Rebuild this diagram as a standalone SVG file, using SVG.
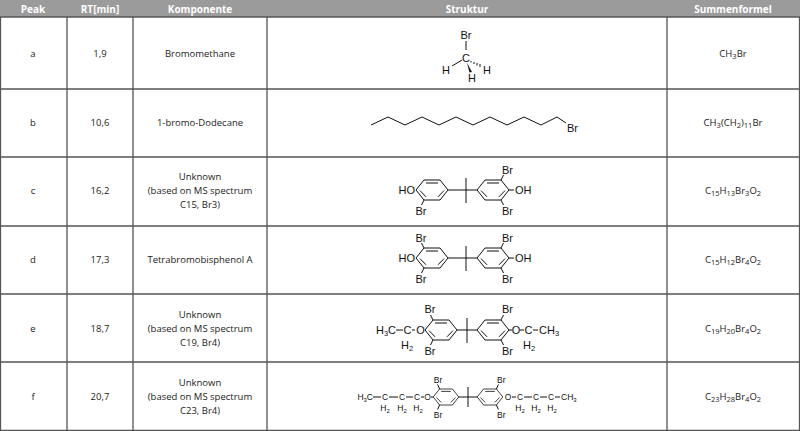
<svg xmlns="http://www.w3.org/2000/svg" width="800" height="431" viewBox="0 0 800 431">
<style>
.t{font-family:"Open Sans","Liberation Sans",sans-serif;font-size:9.5px;fill:#222;text-anchor:middle}
.h{font-family:"Open Sans","Liberation Sans",sans-serif;font-size:10px;font-weight:bold;fill:#fff;text-anchor:middle}
.c{font-family:"Liberation Sans",Arial,sans-serif;font-size:11px;fill:#111}
.s{font-family:"Liberation Sans",Arial,sans-serif;font-size:8.5px;fill:#111}
.grid{stroke:#555;stroke-width:1.3;fill:none}
.b{stroke:#111;stroke-width:1;fill:none}
</style>
<defs>
<g id="ring" class="b">
<path d="M-16,0 L-8,-10 L8,-10 L16,0 L8,10 L-8,10Z"/>
<path d="M-6,-7 L6,-7 M6,6.8 L12,0.6 M-12,0.6 L-6,6.8"/>
</g>
</defs>
<rect x="0" y="0" width="800" height="17" fill="#9b9b9b"/>
<g class="grid">
<path d="M0,17 H800 M0,89 H800 M0,157 H800 M0,226 H800 M0,294 H800 M0,362 H800 M0,430.5 H800"/>
<path d="M67,17 V431 M133,17 V431 M267,17 V431 M667,17 V431 M0.5,17 V431 M799.5,17 V431"/>
</g>
<g id="header">
<text class="h" x="33" y="12.5">Peak</text>
<text class="h" x="100" y="12.5">RT[min]</text>
<text class="h" x="200" y="12.5">Komponente</text>
<text class="h" x="467" y="12.5">Struktur</text>
<text class="h" x="733" y="12.5">Summenformel</text>
</g>
<g id="row-a">
<text class="t" x="33" y="57">a</text><text class="t" x="100" y="57">1,9</text><text class="t" x="200" y="57">Bromomethane</text>
<text class="c" x="466" y="39" text-anchor="middle">Br</text>
<path class="b" d="M466,41 V50 M462,60 L452,66"/>
<text class="c" x="466" y="62" text-anchor="middle">C</text>
<text class="c" x="446" y="74" text-anchor="middle">H</text>
<text class="c" x="487" y="74" text-anchor="middle">H</text>
<text class="c" x="472" y="82" text-anchor="middle">H</text>
<path d="M467,63 L472,72 L469.5,72.5Z" fill="#111"/>
<path class="b" d="M471,61 l0,1.5 M474,62 l0,2 M477,63 l0,2.5 M480,64 l0,3"/>
<text class="t" x="733" y="57">CH<tspan font-size="7.5" dy="1.5">3</tspan><tspan dy="-1.5">Br</tspan></text>
</g>
<g id="row-b">
<text class="t" x="33" y="126">b</text><text class="t" x="100" y="126">10,6</text><text class="t" x="200" y="126">1-bromo-Dodecane</text>
<polyline class="b" points="371,125 388,117 405,125 422,117 439,125 456,117 473,125 490,117 507,125 524,117 541,125 557,117 566,123"/>
<text class="c" x="567" y="132" font-size="10">Br</text>
<text class="t" x="733" y="126">CH<tspan font-size="7.5" dy="1.5">3</tspan><tspan dy="-1.5">(CH</tspan><tspan font-size="7.5" dy="1.5">2</tspan><tspan dy="-1.5">)</tspan><tspan font-size="7.5" dy="1.5">11</tspan><tspan dy="-1.5">Br</tspan></text>
</g>
<g id="row-c">
<text class="t" x="33" y="194">c</text><text class="t" x="100" y="194">16,2</text>
<text class="t" x="200" y="180">Unknown</text><text class="t" x="200" y="194">(based on MS spectrum</text><text class="t" x="200" y="208">C15, Br3)</text>
<use href="#ring" x="432" y="190"/><use href="#ring" x="493" y="190"/>
<path class="b" d="M448,190 H477 M466,178 V203 M424,200 L421.5,205 M501,180 L503.5,175 M509,190 H514 M501,200 L503.5,205"/>
<text class="c" x="415" y="194" text-anchor="end">HO</text>
<text class="c" x="421" y="215" text-anchor="middle">Br</text>
<text class="c" x="502" y="174">Br</text>
<text class="c" x="515" y="194">OH</text>
<text class="c" x="502" y="215">Br</text>
<text class="t" x="733" y="194">C<tspan font-size="7.5" dy="1.5">15</tspan><tspan dy="-1.5">H</tspan><tspan font-size="7.5" dy="1.5">13</tspan><tspan dy="-1.5">Br</tspan><tspan font-size="7.5" dy="1.5">3</tspan><tspan dy="-1.5">O</tspan><tspan font-size="7.5" dy="1.5">2</tspan></text>
</g>
<g id="row-d">
<text class="t" x="33" y="263">d</text><text class="t" x="100" y="263">17,3</text><text class="t" x="200" y="263">Tetrabromobisphenol A</text>
<use href="#ring" x="432" y="258"/><use href="#ring" x="493" y="258"/>
<path class="b" d="M448,258 H477 M466,246 V271 M424,248 L421.5,243 M424,268 L421.5,273 M501,248 L503.5,243 M509,258 H514 M501,268 L503.5,273"/>
<text class="c" x="415" y="262" text-anchor="end">HO</text>
<text class="c" x="421" y="242" text-anchor="middle">Br</text>
<text class="c" x="421" y="283" text-anchor="middle">Br</text>
<text class="c" x="502" y="242">Br</text>
<text class="c" x="515" y="262">OH</text>
<text class="c" x="502" y="283">Br</text>
<text class="t" x="733" y="263">C<tspan font-size="7.5" dy="1.5">15</tspan><tspan dy="-1.5">H</tspan><tspan font-size="7.5" dy="1.5">12</tspan><tspan dy="-1.5">Br</tspan><tspan font-size="7.5" dy="1.5">4</tspan><tspan dy="-1.5">O</tspan><tspan font-size="7.5" dy="1.5">2</tspan></text>
</g>
<g id="row-e">
<text class="t" x="33" y="332">e</text><text class="t" x="100" y="332">18,7</text>
<text class="t" x="200" y="318">Unknown</text><text class="t" x="200" y="332">(based on MS spectrum</text><text class="t" x="200" y="346">C19, Br4)</text>
<use href="#ring" x="441" y="330"/><use href="#ring" x="493" y="330"/>
<path class="b" d="M457,330 H477 M467,318 V343 M433,320 L430.5,315 M433,340 L430.5,345 M501,320 L503.5,315 M501,340 L503.5,345 M396,330 H403 M412,330 H415 M509,330 H512 M520,330 H524 M533,330 H538"/>
<text class="c" x="396" y="334" text-anchor="end" font-size="10.5">H<tspan font-size="7.5" dy="2">3</tspan><tspan dy="-2">C</tspan></text>
<text class="c" x="407.5" y="334" text-anchor="middle">C</text>
<text class="c" x="407" y="349" text-anchor="middle" font-size="10.5">H<tspan font-size="7.5" dy="2">2</tspan></text>
<text class="c" x="420.5" y="334" text-anchor="middle">O</text>
<text class="c" x="430" y="313" text-anchor="middle">Br</text>
<text class="c" x="430" y="355" text-anchor="middle">Br</text>
<text class="c" x="516" y="334" text-anchor="middle">O</text>
<text class="c" x="502" y="313">Br</text>
<text class="c" x="502" y="355">Br</text>
<text class="c" x="528.5" y="334" text-anchor="middle">C</text>
<text class="c" x="529" y="349" text-anchor="middle" font-size="10.5">H<tspan font-size="7.5" dy="2">2</tspan></text>
<text class="c" x="539" y="334">CH<tspan font-size="7.5" dy="2">3</tspan></text>
<text class="t" x="733" y="332">C<tspan font-size="7.5" dy="1.5">19</tspan><tspan dy="-1.5">H</tspan><tspan font-size="7.5" dy="1.5">20</tspan><tspan dy="-1.5">Br</tspan><tspan font-size="7.5" dy="1.5">4</tspan><tspan dy="-1.5">O</tspan><tspan font-size="7.5" dy="1.5">2</tspan></text>
</g>
<g id="row-f">
<text class="t" x="33" y="400">f</text><text class="t" x="100" y="400">20,7</text>
<text class="t" x="200" y="386">Unknown</text><text class="t" x="200" y="400">(based on MS spectrum</text><text class="t" x="200" y="414">C23, Br4)</text>
<use href="#ring" transform="translate(446,397) scale(0.8)"/><use href="#ring" transform="translate(490,397) scale(0.8)"/>
<path class="b" d="M458.8,397 H477.2 M468,387 V407 M439.6,389 L437.6,384.5 M439.6,405 L437.6,409.5 M496.4,389 L498.4,384.5 M496.4,405 L498.4,409.5 M373,397 H381 M389,397 H398 M406,397 H413 M421,397 H424 M431,397 H433 M512,397 H516 M524,397 H532 M540,397 H547 M555,397 H560"/>
<text class="s" x="373" y="400" text-anchor="end">H<tspan font-size="6" dy="1.5">3</tspan><tspan dy="-1.5">C</tspan></text>
<text class="s" x="385" y="400" text-anchor="middle">C</text>
<text class="s" x="402" y="400" text-anchor="middle">C</text>
<text class="s" x="417" y="400" text-anchor="middle">C</text>
<text class="s" x="385" y="411" text-anchor="middle">H<tspan font-size="6" dy="1.5">2</tspan></text>
<text class="s" x="402" y="411" text-anchor="middle">H<tspan font-size="6" dy="1.5">2</tspan></text>
<text class="s" x="418" y="411" text-anchor="middle">H<tspan font-size="6" dy="1.5">2</tspan></text>
<text class="s" x="427.5" y="400" text-anchor="middle">O</text>
<text class="s" x="438" y="383" text-anchor="middle">Br</text>
<text class="s" x="438" y="418" text-anchor="middle">Br</text>
<text class="s" x="497" y="383">Br</text>
<text class="s" x="497" y="418">Br</text>
<text class="s" x="508" y="400" text-anchor="middle">O</text>
<text class="s" x="520" y="400" text-anchor="middle">C</text>
<text class="s" x="536" y="400" text-anchor="middle">C</text>
<text class="s" x="551" y="400" text-anchor="middle">C</text>
<text class="s" x="520" y="411" text-anchor="middle">H<tspan font-size="6" dy="1.5">2</tspan></text>
<text class="s" x="536" y="411" text-anchor="middle">H<tspan font-size="6" dy="1.5">2</tspan></text>
<text class="s" x="552" y="411" text-anchor="middle">H<tspan font-size="6" dy="1.5">2</tspan></text>
<text class="s" x="561" y="400">CH<tspan font-size="6" dy="1.5">3</tspan></text>
<text class="t" x="733" y="400">C<tspan font-size="7.5" dy="1.5">23</tspan><tspan dy="-1.5">H</tspan><tspan font-size="7.5" dy="1.5">28</tspan><tspan dy="-1.5">Br</tspan><tspan font-size="7.5" dy="1.5">4</tspan><tspan dy="-1.5">O</tspan><tspan font-size="7.5" dy="1.5">2</tspan></text>
</g>
</svg>
